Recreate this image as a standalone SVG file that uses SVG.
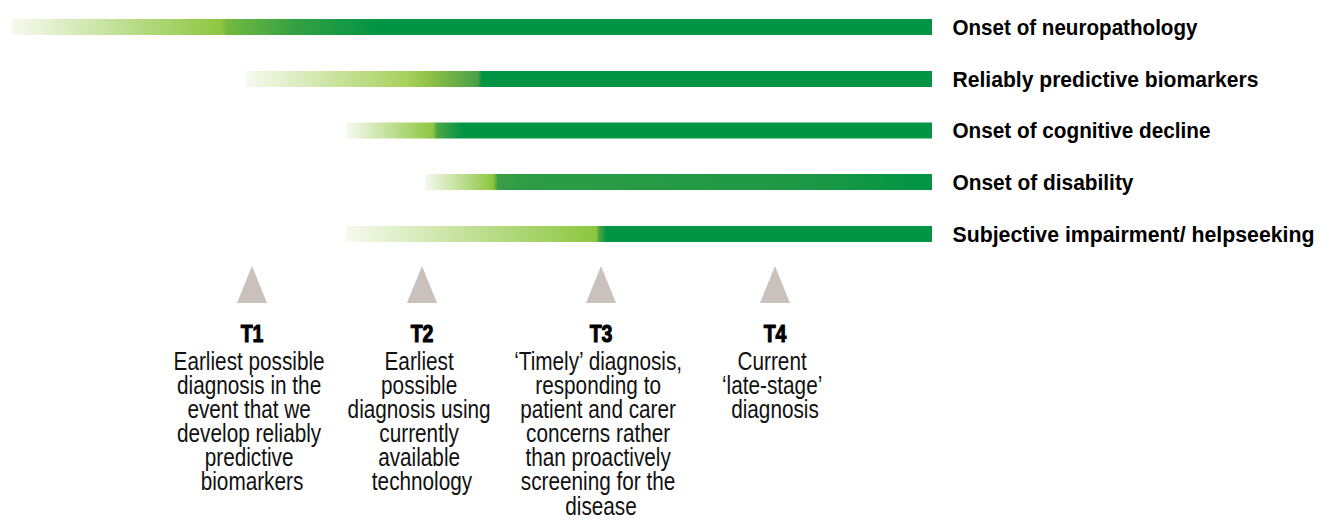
<svg xmlns="http://www.w3.org/2000/svg" width="1331" height="529" viewBox="0 0 1331 529">
<style>
.lbl{font-family:"Liberation Sans",Arial,sans-serif;font-weight:bold;font-size:21.5px;fill:#000}
.hd{font-family:"Liberation Sans",Arial,sans-serif;font-weight:bold;font-size:23.5px;fill:#000;stroke:#000;stroke-width:1.1px;stroke-linejoin:round;text-anchor:middle}
.bd{font-family:"Liberation Sans",Arial,sans-serif;font-size:25px;fill:#111;text-anchor:middle}
.tri{fill:#c9c1bc}
</style>
<defs>
<linearGradient id="g1" gradientUnits="userSpaceOnUse" x1="12" y1="0" x2="932" y2="0">
<stop offset="0" stop-color="#f6faef"/>
<stop offset="0.228" stop-color="#8dc63f"/>
<stop offset="0.233" stop-color="#74b940"/>
<stop offset="0.31" stop-color="#33a044"/>
<stop offset="0.40" stop-color="#009444"/>
<stop offset="1" stop-color="#009444"/>
</linearGradient>
<linearGradient id="g2" gradientUnits="userSpaceOnUse" x1="246" y1="0" x2="932" y2="0">
<stop offset="0" stop-color="#f6faef"/>
<stop offset="0.235" stop-color="#a8d05c"/>
<stop offset="0.27" stop-color="#8cc045"/>
<stop offset="0.338" stop-color="#4a9f47"/>
<stop offset="0.344" stop-color="#009444"/>
<stop offset="1" stop-color="#009444"/>
</linearGradient>
<linearGradient id="g3" gradientUnits="userSpaceOnUse" x1="346" y1="0" x2="932" y2="0">
<stop offset="0" stop-color="#f6faef"/>
<stop offset="0.149" stop-color="#8dc63f"/>
<stop offset="0.155" stop-color="#4ea646"/>
<stop offset="0.20" stop-color="#009444"/>
<stop offset="1" stop-color="#009444"/>
</linearGradient>
<linearGradient id="g4" gradientUnits="userSpaceOnUse" x1="425" y1="0" x2="932" y2="0">
<stop offset="0" stop-color="#f6faef"/>
<stop offset="0.134" stop-color="#8dc63f"/>
<stop offset="0.144" stop-color="#3a9e46"/>
<stop offset="0.2" stop-color="#2e9c46"/>
<stop offset="0.75" stop-color="#1e9846"/>
<stop offset="1" stop-color="#009444"/>
</linearGradient>
<linearGradient id="g5" gradientUnits="userSpaceOnUse" x1="346" y1="0" x2="932" y2="0">
<stop offset="0" stop-color="#f6faef"/>
<stop offset="0.427" stop-color="#8dc63f"/>
<stop offset="0.432" stop-color="#4ea346"/>
<stop offset="0.445" stop-color="#009444"/>
<stop offset="1" stop-color="#009444"/>
</linearGradient>
</defs>

<g id="bar-neuropathology">
<rect x="12" y="19" width="920" height="16" fill="url(#g1)"/>
<text class="lbl" x="952.5" y="34.5" textLength="245" lengthAdjust="spacingAndGlyphs">Onset of neuropathology</text>
</g>
<g id="bar-biomarkers">
<rect x="246" y="71" width="686" height="16" fill="url(#g2)"/>
<text class="lbl" x="952.5" y="86.5" textLength="306" lengthAdjust="spacingAndGlyphs">Reliably predictive biomarkers</text>
</g>
<g id="bar-cognitive">
<rect x="346" y="122.5" width="586" height="16" fill="url(#g3)"/>
<text class="lbl" x="952.5" y="138" textLength="258" lengthAdjust="spacingAndGlyphs">Onset of cognitive decline</text>
</g>
<g id="bar-disability">
<rect x="425" y="174" width="507" height="16" fill="url(#g4)"/>
<text class="lbl" x="952.5" y="190" textLength="181" lengthAdjust="spacingAndGlyphs">Onset of disability</text>
</g>
<g id="bar-subjective">
<rect x="346" y="226" width="586" height="16" fill="url(#g5)"/>
<text class="lbl" x="952.5" y="241.5" textLength="362" lengthAdjust="spacingAndGlyphs">Subjective impairment/ helpseeking</text>
</g>

<g id="connectors"></g>

<g id="T1">
<polygon class="tri" points="252,266 267,303 237,303"/>
<text class="hd" transform="translate(252,0) scale(0.83,1)" x="0" y="342.5">T1</text>
<text class="bd" transform="translate(252,0) scale(0.83,1)">
<tspan x="0" y="370.5">Earliest possible</tspan>
<tspan x="0" y="394.4">diagnosis in the</tspan>
<tspan x="0" y="418.3">event that we</tspan>
<tspan x="0" y="442.2">develop reliably</tspan>
<tspan x="0" y="466.1">predictive</tspan>
<tspan x="0" y="490">biomarkers</tspan>
</text>
</g>

<g id="T2">
<polygon class="tri" points="422,266 437,303 407,303"/>
<text class="hd" transform="translate(422,0) scale(0.83,1)" x="0" y="342.5">T2</text>
<text class="bd" transform="translate(422,0) scale(0.83,1)">
<tspan x="0" y="370.5">Earliest</tspan>
<tspan x="0" y="394.4">possible</tspan>
<tspan x="0" y="418.3">diagnosis using</tspan>
<tspan x="0" y="442.2">currently</tspan>
<tspan x="0" y="466.1">available</tspan>
<tspan x="0" y="490">technology</tspan>
</text>
</g>

<g id="T3">
<polygon class="tri" points="601,266 616,303 586,303"/>
<text class="hd" transform="translate(601,0) scale(0.83,1)" x="0" y="342.5">T3</text>
<text class="bd" transform="translate(601,0) scale(0.83,1)">
<tspan x="0" y="370.5">‘Timely’ diagnosis,</tspan>
<tspan x="0" y="394.4">responding to</tspan>
<tspan x="0" y="418.3">patient and carer</tspan>
<tspan x="0" y="442.2">concerns rather</tspan>
<tspan x="0" y="466.1">than proactively</tspan>
<tspan x="0" y="490">screening for the</tspan>
<tspan x="0" y="514.9">disease</tspan>
</text>
</g>

<g id="T4">
<polygon class="tri" points="775,266 790,303 760,303"/>
<text class="hd" transform="translate(775,0) scale(0.83,1)" x="0" y="342.5">T4</text>
<text class="bd" transform="translate(775,0) scale(0.83,1)">
<tspan x="0" y="370.5">Current</tspan>
<tspan x="0" y="394.4">‘late-stage’</tspan>
<tspan x="0" y="418.3">diagnosis</tspan>
</text>
</g>
</svg>
